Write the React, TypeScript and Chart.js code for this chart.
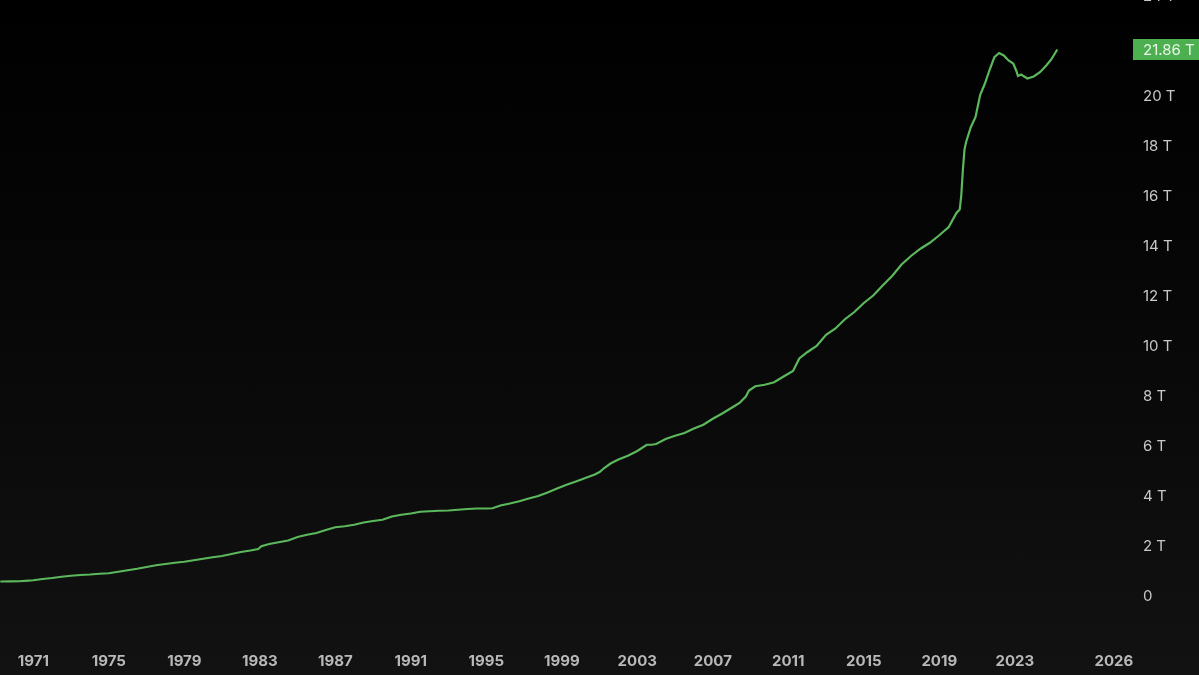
import React, { useEffect, useRef } from "react";
import { Chart, registerables } from "chart.js";

Chart.register(...registerables);

// M2 money supply (trillions USD)
const dates: string[] = [
  "1969-04", "1969-10", "1970-04", "1970-10", "1971-01", "1971-07", "1972-01", "1972-07",
  "1973-01", "1973-07", "1974-01", "1974-07", "1975-01", "1975-07", "1976-01", "1976-07",
  "1977-01", "1977-07", "1978-01", "1978-07", "1979-01", "1979-07", "1980-01", "1980-07",
  "1981-01", "1981-07", "1982-01", "1982-07", "1982-12", "1983-02", "1983-07", "1984-01",
  "1984-07", "1985-01", "1985-07", "1986-01", "1986-07", "1987-01", "1987-07", "1988-01",
  "1988-07", "1989-01", "1989-07", "1990-01", "1990-07", "1991-01", "1991-07", "1992-01",
  "1992-07", "1993-01", "1993-07", "1994-01", "1994-07", "1995-01", "1995-05", "1995-10",
  "1996-04", "1996-10", "1997-04", "1997-10", "1998-04", "1998-10", "1999-04", "1999-10",
  "2000-04", "2000-10", "2001-01", "2001-04", "2001-08", "2002-01", "2002-07", "2003-01",
  "2003-07", "2003-10", "2004-01", "2004-07", "2005-01", "2005-07", "2006-01", "2006-07",
  "2007-01", "2007-07", "2008-01", "2008-06", "2008-10", "2008-12", "2009-04", "2009-10",
  "2010-04", "2010-10", "2011-04", "2011-08", "2012-01", "2012-07", "2013-01", "2013-07",
  "2014-01", "2014-07", "2015-01", "2015-07", "2016-01", "2016-07", "2017-01", "2017-07",
  "2018-01", "2018-07", "2019-01", "2019-07", "2019-12", "2020-02", "2020-03", "2020-04",
  "2020-05", "2020-06", "2020-09", "2020-12", "2021-03", "2021-06", "2021-09", "2021-12",
  "2022-03", "2022-06", "2022-09", "2022-12", "2023-02", "2023-03", "2023-05", "2023-09",
  "2024-01", "2024-05", "2024-09", "2024-12", "2025-02", "2025-04",
];

const m2Values: number[] = [
  0.58, 0.585, 0.59, 0.615, 0.63, 0.68, 0.72, 0.77,
  0.81, 0.84, 0.86, 0.89, 0.91, 0.97, 1.03, 1.09,
  1.16, 1.23, 1.28, 1.33, 1.37, 1.43, 1.49, 1.55,
  1.6, 1.68, 1.76, 1.82, 1.88, 1.99, 2.08, 2.15,
  2.22, 2.36, 2.45, 2.52, 2.64, 2.75, 2.79, 2.85,
  2.94, 3.0, 3.05, 3.18, 3.25, 3.3, 3.37, 3.39,
  3.41, 3.42, 3.45, 3.48, 3.5, 3.5, 3.51, 3.62,
  3.7, 3.79, 3.9, 4.0, 4.14, 4.3, 4.45, 4.58,
  4.72, 4.86, 4.96, 5.12, 5.3, 5.46, 5.61, 5.8,
  6.05, 6.05, 6.08, 6.28, 6.41, 6.52, 6.7, 6.85,
  7.09, 7.3, 7.53, 7.72, 7.98, 8.22, 8.39, 8.45,
  8.55, 8.78, 9.0, 9.5, 9.75, 10.0, 10.45, 10.7,
  11.07, 11.36, 11.72, 12.02, 12.42, 12.8, 13.26, 13.6,
  13.89, 14.13, 14.43, 14.76, 15.33, 15.46, 16.05, 17.05,
  17.85, 18.15, 18.75, 19.15, 20.05, 20.5, 21.05, 21.55,
  21.72, 21.62, 21.42, 21.3, 21.0, 20.8, 20.86, 20.7,
  20.78, 20.95, 21.22, 21.45, 21.65, 21.86,
];

const xTickValues: number[] = [1971, 1975, 1979, 1983, 1987, 1991, 1995, 1999, 2003, 2007, 2011, 2015, 2019, 2023, 2028.25];
const xTickLabels: string[] = ["1971", "1975", "1979", "1983", "1987", "1991", "1995", "1999", "2003", "2007", "2011", "2015", "2019", "2023", "2026"];
const yTickValues: number[] = [0, 2, 4, 6, 8, 10, 12, 14, 16, 18, 20, 22, 24];

const toYear = (s: string) => {
  const [y, m] = s.split("-").map(Number);
  return y + (m - 1) / 12;
};

const FONT = "Inter, 'Noto Sans', 'DejaVu Sans', sans-serif";

export default function App() {
  const ref = useRef<HTMLCanvasElement | null>(null);

  useEffect(() => {
    document.body.style.margin = "0";
    const canvas = ref.current;
    if (!canvas) return;
    const points = dates.map((d, i) => ({ x: toYear(d), y: m2Values[i] }));
    const lastValue = m2Values[m2Values.length - 1];

    const lastLabel = {
      id: "lastLabel",
      afterDraw(chart: any) {
        const { ctx, scales } = chart;
        const y = scales.y.getPixelForValue(lastValue);
        const left = scales.y.left + 8;
        ctx.save();
        ctx.fillStyle = "#4caf50";
        ctx.fillRect(left, y - 10.5, chart.width - left + 2, 21);
        ctx.fillStyle = "#eaf6ea";
        ctx.font = `15px ${FONT}`;
        ctx.textAlign = "left";
        ctx.textBaseline = "middle";
        ctx.fillText(`${lastValue.toFixed(2)} T`, scales.y.left + 18, y + 1);
        ctx.restore();
      },
    };

    const zeroPad = (s: any) => {
      s.paddingTop = 0;
      s.paddingBottom = 0;
      s.paddingLeft = 0;
      s.paddingRight = 0;
    };

    const chart = new Chart(canvas, {
      type: "line",
      data: {
        datasets: [
          {
            data: points,
            borderColor: "#5cb85c",
            borderWidth: 2.2,
            pointRadius: 0,
            tension: 0,
            fill: false,
          },
        ],
      },
      options: {
        animation: false,
        responsive: false,
        maintainAspectRatio: false,
        layout: { padding: 0 },
        plugins: {
          legend: { display: false },
          tooltip: { enabled: false },
        },
        scales: {
          x: {
            type: "linear",
            min: 1971 - 33.3 / 18.875,
            max: 1971 - 33.3 / 18.875 + 1125 / 18.875,
            grid: { display: false, drawTicks: false },
            border: { display: false },
            afterFit: (s: any) => {
              s.height = 35;
              zeroPad(s);
            },
            afterBuildTicks: (s: any) => {
              s.ticks = xTickValues.map((v) => ({ value: v }));
            },
            ticks: {
              autoSkip: false,
              maxRotation: 0,
              padding: 12,
              color: "#b8b8b8",
              font: { family: FONT, size: 15, weight: "bold" },
              callback: (v: any) => {
                const i = xTickValues.indexOf(Number(v));
                return i >= 0 ? xTickLabels[i] : "";
              },
            },
          },
          y: {
            type: "linear",
            position: "right",
            min: -1.76,
            max: 24.64,
            grid: { display: false, drawTicks: false },
            border: { display: false },
            afterFit: (s: any) => {
              s.width = 74;
              zeroPad(s);
            },
            afterBuildTicks: (s: any) => {
              s.ticks = yTickValues.map((v) => ({ value: v }));
            },
            ticks: {
              autoSkip: false,
              padding: 18,
              color: "#c8c8c8",
              font: { family: FONT, size: 15 },
              callback: (v: any) => (Number(v) === 0 ? "0" : `${v} T`),
            },
          },
        },
      },
      plugins: [lastLabel],
    } as any);

    return () => chart.destroy();
  }, []);

  return (
    <div
      style={{
        position: "fixed",
        left: 0,
        top: 0,
        width: 1199,
        height: 675,
        overflow: "hidden",
        background: "linear-gradient(180deg, #000000 0%, #070707 45%, #121212 100%)",
      }}
    >
      <canvas
        ref={ref}
        width={1199}
        height={695}
        style={{ position: "absolute", left: 0, top: -20, width: 1199, height: 695 }}
      />
    </div>
  );
}
